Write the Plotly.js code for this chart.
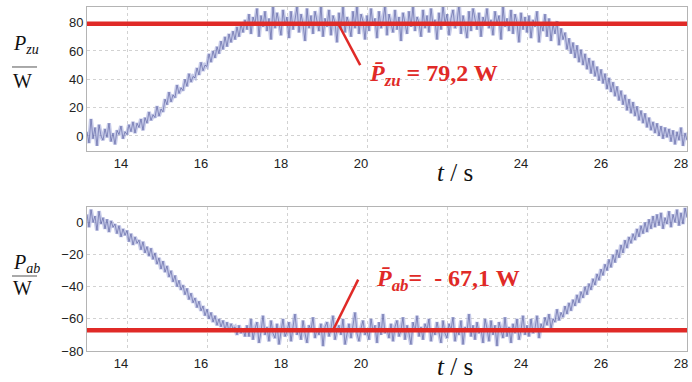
<!DOCTYPE html>
<html>
<head>
<meta charset="utf-8">
<script src="https://cdn.plot.ly/plotly-3.0.1.min.js"></script>
<style>
.annotation-text, .annotation-text tspan { font-family: 'Liberation Serif', 'Times New Roman', serif !important; }
</style>
</head>
<body style="margin:0">
<div id="chart"></div>
<script>
// sampling of the recorded signals (s)
const tStart = 13, tStep = 0.05;

// P_zu (W), one row per second, 20 samples per row
const pzu = [
  3,-5,12,-2,6,-7,8,0,-3,5,-1,9,-4,2,-6,4,1,7,-2,3,
  1,8,3,10,2,9,6,12,4,13,9,17,11,15,13,21,14,19,17,26,
  22,31,24,29,27,36,30,34,32,40,35,44,38,42,41,48,43,52,46,50,
  49,58,52,60,55,63,58,67,61,70,63,72,66,74,68,77,70,79,73,82,
  75,86,72,84,79,90,70,85,77,88,74,83,68,91,76,87,80,71,89,78,
  84,69,88,75,82,91,73,86,79,67,90,76,85,72,88,81,74,92,70,83,
  77,89,71,85,80,66,87,75,91,73,84,79,70,88,76,92,72,86,81,68,
  85,74,90,78,83,69,88,76,81,92,71,86,79,73,89,75,84,67,87,80,
  72,88,77,91,74,84,80,70,89,76,85,73,90,78,82,68,87,75,92,79,
  86,71,83,89,76,80,93,72,85,78,69,88,74,90,81,75,87,70,84,79,
  90,76,82,71,88,79,85,68,91,77,83,74,89,72,86,80,66,87,75,84,
  73,85,69,82,77,88,66,80,74,86,70,83,67,79,72,81,64,76,68,73,
  61,69,58,66,55,64,52,61,50,58,47,55,44,53,42,49,39,47,37,44,
  33,41,31,38,28,35,25,32,22,29,18,26,16,24,14,21,11,18,9,16,
  6,13,4,10,2,9,0,7,-2,6,-1,5,-4,4,-6,3,-3,6,-7,2,
  -3
];

// P_ab (W)
const pab = [
  5,-3,8,0,4,-5,7,-1,3,-4,2,-6,1,-3,-1,-7,-2,-9,-4,-8,
  -5,-12,-7,-14,-9,-13,-11,-17,-12,-19,-15,-21,-16,-23,-19,-26,-22,-29,-24,-31,
  -27,-34,-30,-37,-33,-40,-36,-42,-39,-45,-41,-48,-44,-50,-47,-53,-49,-55,-52,-58,
  -54,-60,-56,-62,-58,-64,-60,-65,-61,-67,-62,-68,-63,-66,-65,-70,-64,-69,-66,-71,
  -64,-71,-60,-73,-66,-62,-75,-68,-58,-70,-65,-74,-61,-69,-72,-63,-76,-67,-60,-71,
  -68,-62,-74,-65,-57,-70,-66,-73,-61,-69,-75,-64,-67,-59,-72,-66,-70,-63,-77,-65,
  -62,-71,-66,-58,-73,-67,-64,-70,-60,-76,-68,-63,-72,-65,-56,-69,-74,-66,-61,-70,
  -67,-73,-60,-68,-64,-75,-62,-70,-57,-69,-66,-72,-63,-74,-65,-61,-71,-67,-59,-73,
  -64,-69,-76,-62,-68,-58,-71,-65,-73,-63,-67,-60,-74,-66,-70,-62,-68,-75,-61,-69,
  -72,-63,-67,-59,-74,-66,-70,-61,-76,-65,-68,-57,-71,-64,-73,-62,-69,-66,-75,-60,
  -66,-74,-61,-70,-64,-77,-62,-68,-72,-59,-71,-65,-75,-63,-69,-60,-73,-67,-58,-70,
  -64,-71,-60,-69,-66,-58,-72,-63,-67,-59,-64,-57,-66,-60,-62,-54,-61,-56,-59,-52,
  -57,-50,-55,-48,-52,-45,-50,-43,-47,-40,-45,-38,-42,-35,-39,-32,-36,-29,-33,-26,
  -30,-23,-28,-20,-25,-17,-22,-14,-19,-11,-16,-9,-13,-7,-11,-4,-9,-2,-7,0,
  -6,2,-4,4,-3,5,-2,6,-4,3,-1,7,-3,5,0,8,-2,6,-1,9,
  3
];

// mean values (W)
const meanZu = 79.2;
const meanAb = -67.1;
const meanZuLabel = "79,2 W";
const meanAbLabel = "- 67,1 W";

// axes (the 22 label is hidden under the "t / s" title in the original)
const tRange = [13, 28];
const tTicks = [14, 16, 18, 20, 22, 24, 26, 28];
const tTickText = ['14', '16', '18', '20', '', '24', '26', '28'];
const zuTicks = [0, 20, 40, 60, 80];
const abTicks = [-80, -60, -40, -20, 0];

const t = pzu.map((_, i) => +(tStart + i * tStep).toFixed(3));

const halo = {color: 'rgba(160,166,216,0.6)', width: 4};
const core = {color: 'rgba(36,44,125,0.7)', width: 0.6};
const red = '#e02a27';

const traces = [
  {x: t, y: pzu, xaxis: 'x', yaxis: 'y', mode: 'lines', line: halo},
  {x: t, y: pzu, xaxis: 'x', yaxis: 'y', mode: 'lines', line: core},
  {x: tRange, y: [meanZu, meanZu], xaxis: 'x', yaxis: 'y', mode: 'lines', line: {color: red, width: 4.5}},
  {x: t, y: pab, xaxis: 'x2', yaxis: 'y2', mode: 'lines', line: halo},
  {x: t, y: pab, xaxis: 'x2', yaxis: 'y2', mode: 'lines', line: core},
  {x: tRange, y: [meanAb, meanAb], xaxis: 'x2', yaxis: 'y2', mode: 'lines', line: {color: red, width: 4.5}}
];

function tickFont() { return {family: 'Arial', size: 13, color: '#222'}; }
function xCommon(anchor) {
  return {
    anchor: anchor, range: tRange, tickvals: tTicks, ticktext: tTickText, showgrid: true, gridcolor: '#d2d2d2', griddash: 'dot',
    showline: true, mirror: true, linecolor: '#b4b4b4', linewidth: 1, zeroline: false,
    ticks: '', tickfont: tickFont(), ticklabelshift: -6, fixedrange: true
  };
}
function yCommon() {
  return {
    showgrid: true, gridcolor: '#d2d2d2', griddash: 'dot',
    showline: true, mirror: true, linecolor: '#b4b4b4', linewidth: 1, zeroline: false,
    ticks: '', tickfont: tickFont(), fixedrange: true
  };
}

const SERIF = 'Liberation Serif';
function lblFont() { return {family: SERIF, size: 24, color: red}; }
function axFont() { return {family: SERIF, size: 20, color: '#111'}; }
function tFont() { return {family: SERIF, size: 25, color: '#111'}; }

function ann(xref, yref, x, y, xanchor, text, font) {
  return {xref: xref, yref: yref, x: x, y: y, xanchor: xanchor, yanchor: 'middle', showarrow: false, text: text, font: font};
}

const layout = {
  width: 692, height: 382,
  font: {family: SERIF},
  margin: {l: 87, r: 5, t: 7, b: 31},
  paper_bgcolor: '#fff', plot_bgcolor: '#fff',
  showlegend: false, hovermode: false,
  xaxis: xCommon('y'),
  yaxis: Object.assign(yCommon(), {domain: [0.5814, 1], range: [-10.6, 91], tickvals: zuTicks, anchor: 'x'}),
  xaxis2: xCommon('y2'),
  yaxis2: Object.assign(yCommon(), {domain: [0, 0.4186], range: [-80, 9.6], tickvals: abTicks, anchor: 'x2'}),
  shapes: [
    {type: 'line', xref: 'x', yref: 'y', x0: 19.28, y0: meanZu, x1: 19.83, y1: 50, line: {color: red, width: 2.5}},
    {type: 'line', xref: 'x2', yref: 'y2', x0: 19.15, y0: meanAb, x1: 19.78, y1: -35.6, line: {color: red, width: 2.5}},
    {type: 'line', xref: 'paper', yref: 'paper', x0: -0.125, x1: -0.0833, y0: 0.8256, y1: 0.8256, line: {color: '#555', width: 1}},
    {type: 'line', xref: 'paper', yref: 'paper', x0: -0.125, x1: -0.0833, y0: 0.218, y1: 0.218, line: {color: '#555', width: 1}}
  ],
  annotations: [
    ann('x', 'y', 20.0, 43, 'left', '<b><i>P\u0304</i><sub><i>zu</i></sub> = ' + meanZuLabel + '</b>', lblFont()),
    ann('x2', 'y2', 20.17, -36, 'left', '<b><i>P\u0304</i><sub><i>ab</i></sub>=\u00a0 ' + meanAbLabel + '</b>', lblFont()),
    ann('paper', 'paper', -0.127, 0.892, 'left', '<i>P</i><sub><i>zu</i></sub>', axFont()),
    ann('paper', 'paper', -0.127, 0.786, 'left', 'W', axFont()),
    ann('paper', 'paper', -0.127, 0.253, 'left', '<i>P</i><sub><i>ab</i></sub>', axFont()),
    ann('paper', 'paper', -0.127, 0.184, 'left', 'W', axFont()),
    ann('paper', 'paper', 0.613, 0.52, 'center', '<i>t</i> / s', tFont()),
    ann('paper', 'paper', 0.613, -0.045, 'center', '<i>t</i> / s', tFont())
  ]
};

function forceSerif() {
  document.querySelectorAll('#chart .annotation-text, #chart .annotation-text tspan').forEach(function (n) {
    n.setAttribute('font-family', "'Liberation Serif', 'Times New Roman', serif");
    n.style.setProperty('font-family', "'Liberation Serif', 'Times New Roman', serif", 'important');
  });
}

Plotly.newPlot('chart', traces, layout, {displayModeBar: false}).then(forceSerif);
forceSerif();
</script>
</body>
</html>
